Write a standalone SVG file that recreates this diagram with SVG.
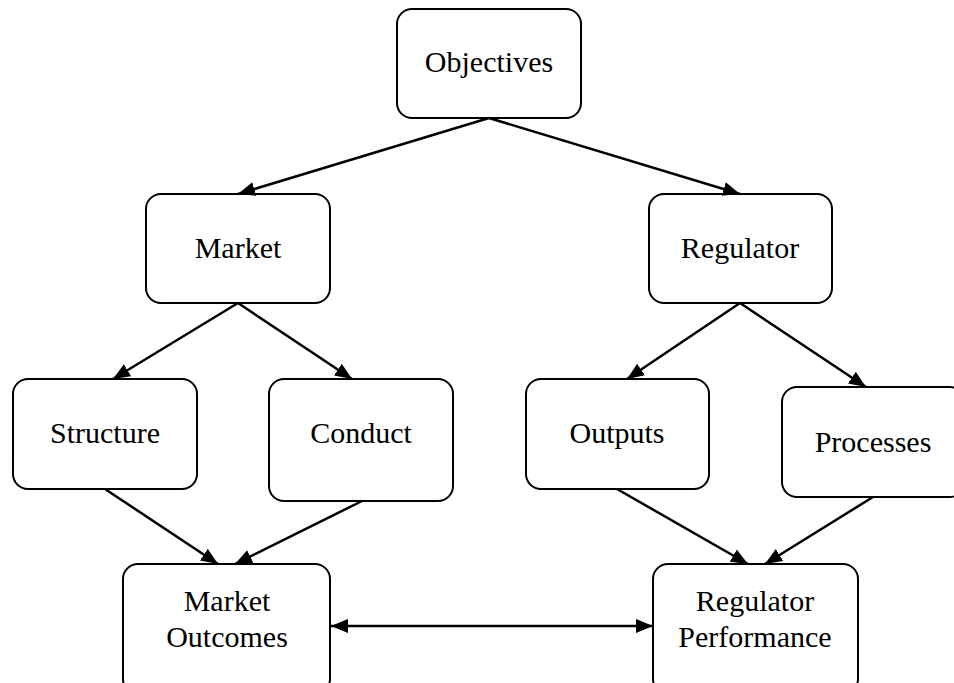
<svg xmlns="http://www.w3.org/2000/svg" width="954" height="683" viewBox="0 0 954 683">
<style>
.box{fill:#fff;stroke:#000;stroke-width:2}
.lbl{font-family:"Liberation Serif","Times New Roman",serif;font-size:30px;fill:#000;text-anchor:middle}
.conn line{stroke:#000;stroke-width:2.5;marker-end:url(#ah)}
</style>
<defs>
<marker id="ah" markerUnits="userSpaceOnUse" markerWidth="18" markerHeight="16" refX="17" refY="8" orient="auto-start-reverse" viewBox="0 0 18 16">
<path d="M0,1 L17,8 L0,15 z" fill="#000"/>
</marker>
</defs>
<rect width="954" height="683" fill="#fff"/>
<g id="objectives"><rect class="box" x="397" y="9" width="184" height="109" rx="15"/><text class="lbl" x="489" y="72">Objectives</text></g>
<g id="market"><rect class="box" x="146" y="194" width="184" height="109" rx="15"/><text class="lbl" x="238" y="258">Market</text></g>
<g id="regulator"><rect class="box" x="649" y="194" width="183" height="109" rx="15"/><text class="lbl" x="740" y="258">Regulator</text></g>
<g id="structure"><rect class="box" x="13" y="379" width="184" height="110" rx="15"/><text class="lbl" x="105" y="443">Structure</text></g>
<g id="conduct"><rect class="box" x="269" y="379" width="184" height="122" rx="15"/><text class="lbl" x="361" y="443">Conduct</text></g>
<g id="outputs"><rect class="box" x="526" y="379" width="183" height="110" rx="15"/><text class="lbl" x="617" y="443">Outputs</text></g>
<g id="processes"><rect class="box" x="782" y="387" width="183" height="110" rx="15"/><text class="lbl" x="873" y="452">Processes</text></g>
<g id="market-outcomes"><rect class="box" x="123" y="564" width="207" height="130" rx="15"/><text class="lbl" x="227" y="611">Market</text><text class="lbl" x="227" y="647">Outcomes</text></g>
<g id="regulator-performance"><rect class="box" x="653" y="564" width="205" height="130" rx="15"/><text class="lbl" x="755" y="611">Regulator</text><text class="lbl" x="755" y="647">Performance</text></g>
<g id="connectors" class="conn">
<line x1="489" y1="118" x2="238" y2="194"/>
<line x1="489" y1="118" x2="740" y2="194"/>
<line x1="238" y1="303" x2="113" y2="379"/>
<line x1="238" y1="303" x2="352" y2="379"/>
<line x1="740" y1="303" x2="627" y2="379"/>
<line x1="740" y1="303" x2="866" y2="387"/>
<line x1="105" y1="489" x2="218" y2="564"/>
<line x1="362" y1="501" x2="235" y2="564"/>
<line x1="617" y1="489" x2="748" y2="564"/>
<line x1="873" y1="497" x2="765" y2="564"/>
<line x1="331" y1="626" x2="653" y2="626" style="marker-start:url(#ah)"/>
</g>
</svg>
